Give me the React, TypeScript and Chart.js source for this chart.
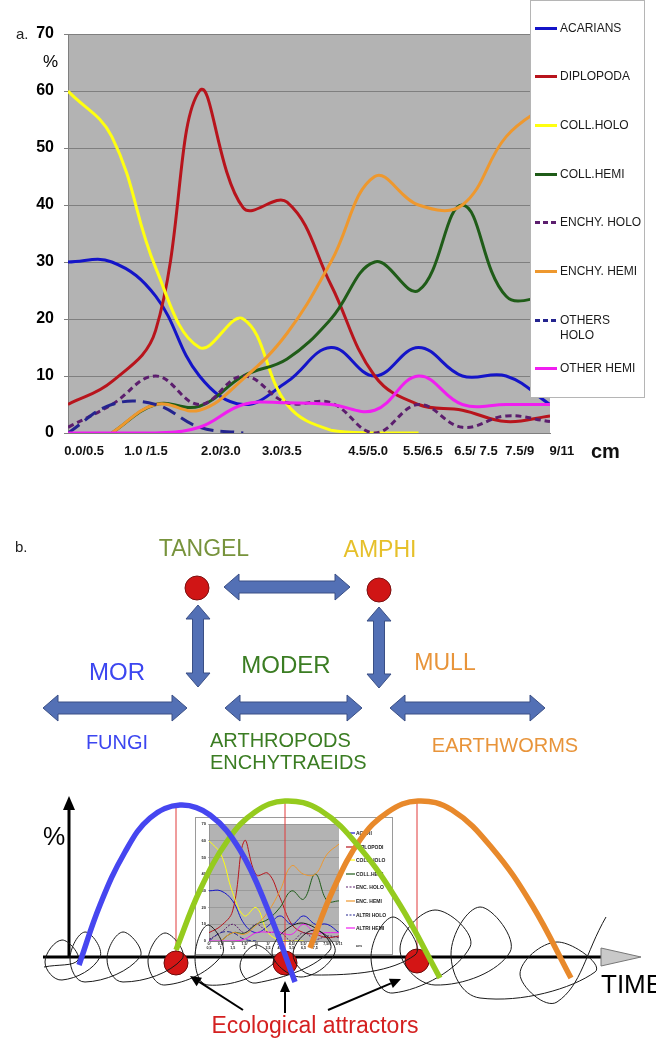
import React, { useEffect, useRef } from "react";
import { Chart, registerables } from "chart.js";
Chart.register(...registerables);

// ---------- Part a data ----------
const depthIndex = [0, 1, 2, 3, 4, 5, 6, 7, 8, 9, 10, 11];
const depthLabels = ["0.0/0.5", "1.0 /1.5", "2.0/3.0", "3.0/3.5", "4.5/5.0", "5.5/6.5", "6.5/ 7.5", "7.5/9", "9/11"];
const depthLabelPos = [0.37, 1.78, 3.49, 4.88, 6.85, 8.1, 9.31, 10.31, 11.27];
const insetTickLabels = [["0/", "0,5"], ["0,5/", "1"], ["1/", "1,5"], ["1,5/", "2"], ["2/", "3"], ["3/", "3,5"], ["3,5/", "4,5"], ["4,5/", "5,5"], ["5,5/", "6,5"], ["6,5/", "7,5"], ["7,5/9", ""], ["9/11", ""]];

const seriesNames = ["ACARIANS", "DIPLOPODA", "COLL.HOLO", "COLL.HEMI", "ENCHY. HOLO", "ENCHY. HEMI", "OTHERS\nHOLO", "OTHER HEMI"];
const insetNames = ["ACARI", "DIPLOPODI", "COLL.HOLO", "COLL.HEMI", "ENC. HOLO", "ENC. HEMI", "ALTRI HOLO", "ALTRI HEMI"];

const acarians = [30, 30, 24, 10, 5, 9, 15, 10, 15, 10, 10, 5];
const diplopoda = [5, 9, 18, 60, 39.5, 40.5, 26, 10, 5, 4, 2, 3];
const collHolo = [60, 52, 29, 15, 20, 5, 0.5, 0, 0, null, null, null];
const collHemi = [null, 0, 5, 4.7, 10, 13, 20, 30, 25, 40, 24, 24];
const enchyHolo = [1, 5, 10, 5, 10, 5.3, 5.3, 0, 5, 1, 3, 2];
const enchyHemi = [null, 0, 5, 4, 9.5, 17.5, 30, 45, 40, 40, 52, 58];
const othersHolo = [0, 5, 5, 1, 0, null, null, null, null, null, null, null];
const otherHemi = [0, 0, 0, 1, 5, 5.3, 5, 4, 10, 5, 5, 5];
const seriesValues = [acarians, diplopoda, collHolo, collHemi, enchyHolo, enchyHemi, othersHolo, otherHemi];

const seriesColors = ["#1414C8", "#B8141C", "#FFFF10", "#1F5C18", "#5C1E6E", "#EE982E", "#24248F", "#F01EF0"];
const seriesDash = [[], [], [], [], [6, 4], [], [14, 7], []];

// ---------- Part b schematic data ----------
const morTime = [79, 100, 125, 150, 180, 210, 240, 268, 295];
const morLevel = [-8, 52, 105, 139, 152, 142, 107, 47, -25];
const moderTime = [176, 200, 228, 255, 285, 320, 360, 400, 440];
const moderLevel = [7, 67, 117, 145, 156, 147, 109, 52, -21];
const mullTime = [310, 333, 360, 388, 418, 452, 492, 532, 571];
const mullLevel = [9, 67, 117, 145, 156, 147, 109, 52, -21];

const loopTime = [44, 78, 62, 45, 62, 100, 85, 70, 85, 140, 123, 107, 123, 182, 165, 148, 165, 222, 208, 195, 208, 273, 256, 240, 256, 330, 301, 272, 301, 335, 314, 293, 314, 415, 393, 371, 393, 470, 435, 400, 435, 510, 480, 451, 480, 595, 557, 520, 557, 606];
const loopLevel = [-10, -3, 17, -5, -23, 0, 25, -2, -25, 0, 25, -2, -25, -2, 24, -4, -28, 2, 32, 0, -28, -7, 12, -9, -26, 7, 34, 5, -20, 5, 27, 3, -18, 2, 40, 0, -36, 10, 47, 8, -28, 5, 50, 3, -41, -15, 15, -17, -45, 40];

const attractorTime = [176, 285, 417];
const attractorLevel = [-6, -6, -4];
const peakLevel = [154, 158, 157];
const pointerFrom = [[243, -53], [285, -56], [328, -53]];
const pointerTo = [[190, -19], [285, -24], [401, -22]];
const timeAxisRange = [43, 601];
const levelAxisTop = 160;

// ---------- diagram layout ----------
const arrowsH = [[224, 350, 587], [43, 187, 708], [225, 362, 708], [390, 545, 708]];
const arrowsV = [[198, 605, 687], [379, 607, 688]];
const topDots = [[197, 588], [379, 590]];

const FONT = '"Liberation Sans", Arial, sans-serif';

const plotBg = {
  id: "plotBg",
  beforeDraw(chart: any, _a: any, opts: any) {
    if (!opts || !opts.color) return;
    const { ctx, chartArea: a } = chart;
    ctx.save();
    ctx.fillStyle = opts.color;
    ctx.fillRect(a.left, a.top, a.right - a.left, a.bottom - a.top);
    ctx.restore();
  },
};

function makeDatasets(width: number) {
  return seriesValues.map((vals, i) => ({
    label: seriesNames[i].replace("\n", " "),
    data: vals,
    borderColor: seriesColors[i],
    backgroundColor: seriesColors[i],
    borderWidth: width,
    borderDash: seriesDash[i].map((d) => (d * width) / 3),
    pointRadius: 0,
    tension: 0.4,
    fill: false,
    spanGaps: false,
    order: 8 - i,
  }));
}

function mainConfig(): any {
  return {
    type: "line",
    data: { labels: depthIndex, datasets: makeDatasets(3) },
    options: {
      animation: false,
      responsive: false,
      events: [],
      layout: { padding: { left: 0, right: 106, top: 34, bottom: 0 } },
      plugins: { legend: { display: false }, tooltip: { enabled: false }, plotBg: { color: "#B3B3B3" } },
      scales: {
        x: {
          type: "linear",
          min: 0,
          max: 11,
          afterBuildTicks: (s: any) => {
            s.ticks = depthLabelPos.map((v) => ({ value: v }));
          },
          afterFit: (s: any) => {
            s.height = 37;
          },
          grid: { display: false, drawTicks: false },
          border: { display: true, color: "#7F7F7F" },
          ticks: {
            autoSkip: false,
            maxRotation: 0,
            padding: 11,
            color: "#111",
            font: { family: FONT, size: 13, weight: "bold" },
            callback: (_v: any, i: number) => depthLabels[i],
          },
        },
        y: {
          min: 0,
          max: 70,
          afterFit: (s: any) => {
            s.width = 68;
          },
          ticks: { stepSize: 10, padding: 10, color: "#000", font: { family: FONT, size: 16, weight: "bold" } },
          grid: { color: "#7F7F7F", tickLength: 4, drawTicks: true },
          border: { color: "#7F7F7F" },
        },
      },
    },
    plugins: [plotBg],
  };
}

function insetConfig(): any {
  return {
    type: "line",
    data: { labels: depthIndex, datasets: makeDatasets(1) },
    options: {
      animation: false,
      responsive: false,
      events: [],
      layout: { padding: { left: 0, right: 53, top: 6, bottom: 0 } },
      plugins: { legend: { display: false }, tooltip: { enabled: false }, plotBg: { color: "#B3B3B3" } },
      scales: {
        x: {
          type: "linear",
          min: 0,
          max: 11,
          afterBuildTicks: (s: any) => {
            s.ticks = depthIndex.map((v) => ({ value: v }));
          },
          afterFit: (s: any) => {
            s.height = 13;
          },
          grid: { display: false, drawTicks: false },
          border: { display: true, color: "#7F7F7F" },
          ticks: {
            autoSkip: false,
            maxRotation: 0,
            padding: 1,
            color: "#222",
            font: { family: FONT, size: 3.6, weight: "bold", lineHeight: 1.1 },
            callback: (_v: any, i: number) => insetTickLabels[i],
          },
        },
        y: {
          min: 0,
          max: 70,
          afterFit: (s: any) => {
            s.width = 13;
          },
          ticks: { stepSize: 10, padding: 2, color: "#222", font: { family: FONT, size: 4, weight: "bold" } },
          grid: { color: "#8A8A8A", lineWidth: 0.6, tickLength: 1, drawTicks: true },
          border: { color: "#7F7F7F", width: 0.6 },
        },
      },
    },
    plugins: [plotBg],
  };
}

const schemaAxes = {
  id: "schemaAxes",
  beforeDatasetsDraw(chart: any) {
    const { ctx, scales } = chart;
    const X = (v: number) => scales.x.getPixelForValue(v);
    const Y = (v: number) => scales.y.getPixelForValue(v);
    ctx.save();
    ctx.strokeStyle = "#000";
    ctx.fillStyle = "#000";
    ctx.lineWidth = 3;
    // time axis
    ctx.beginPath();
    ctx.moveTo(X(timeAxisRange[0]), Y(0));
    ctx.lineTo(X(timeAxisRange[1]), Y(0));
    ctx.stroke();
    // gray triangle arrow head
    ctx.beginPath();
    ctx.moveTo(X(timeAxisRange[1]), Y(9));
    ctx.lineTo(X(timeAxisRange[1] + 40), Y(0));
    ctx.lineTo(X(timeAxisRange[1]), Y(-9));
    ctx.closePath();
    ctx.fillStyle = "#C9C9C9";
    ctx.fill();
    ctx.lineWidth = 1;
    ctx.strokeStyle = "#777";
    ctx.stroke();
    // level axis
    const x0 = X(69);
    ctx.strokeStyle = "#000";
    ctx.fillStyle = "#000";
    ctx.lineWidth = 3;
    ctx.beginPath();
    ctx.moveTo(x0, Y(0));
    ctx.lineTo(x0, Y(levelAxisTop - 10));
    ctx.stroke();
    ctx.beginPath();
    ctx.moveTo(x0, Y(levelAxisTop + 1));
    ctx.lineTo(x0 - 6, Y(levelAxisTop - 13));
    ctx.lineTo(x0 + 6, Y(levelAxisTop - 13));
    ctx.closePath();
    ctx.fill();
    ctx.restore();
  },
  afterDatasetsDraw(chart: any) {
    const { ctx, scales } = chart;
    const X = (v: number) => scales.x.getPixelForValue(v);
    const Y = (v: number) => scales.y.getPixelForValue(v);
    ctx.save();
    ctx.strokeStyle = "#000";
    ctx.fillStyle = "#000";
    ctx.lineWidth = 2;
    pointerFrom.forEach((f, i) => {
      const x1 = X(f[0]), y1 = Y(f[1]);
      const x2 = X(pointerTo[i][0]), y2 = Y(pointerTo[i][1]);
      const ang = Math.atan2(y2 - y1, x2 - x1);
      const hl = 11, hw = 5;
      const bx = x2 - hl * Math.cos(ang), by = y2 - hl * Math.sin(ang);
      ctx.beginPath();
      ctx.moveTo(x1, y1);
      ctx.lineTo(bx, by);
      ctx.stroke();
      ctx.beginPath();
      ctx.moveTo(x2, y2);
      ctx.lineTo(bx + hw * Math.sin(ang), by - hw * Math.cos(ang));
      ctx.lineTo(bx - hw * Math.sin(ang), by + hw * Math.cos(ang));
      ctx.closePath();
      ctx.fill();
    });
    ctx.restore();
  },
};

function schemaConfig(): any {
  const pts = (t: number[], l: number[]) => t.map((v, i) => ({ x: v, y: l[i] }));
  const curve = (t: number[], l: number[], color: string) => ({
    data: pts(t, l),
    borderColor: color,
    borderWidth: 5.5,
    tension: 0.4,
    pointRadius: 0,
    order: 0,
  });
  return {
    type: "line",
    data: {
      datasets: [
        curve(morTime, morLevel, "#4646F0"),
        curve(moderTime, moderLevel, "#95CB1E"),
        curve(mullTime, mullLevel, "#E8892B"),
        { data: pts(loopTime, loopLevel), borderColor: "#1A1A1A", borderWidth: 1, tension: 0.42, pointRadius: 0, order: 1 },
        {
          data: pts(attractorTime, attractorLevel),
          showLine: false,
          pointRadius: 12,
          pointBackgroundColor: "#D41515",
          pointBorderColor: "#6A0A0A",
          pointBorderWidth: 1,
          order: 2,
        },
        ...attractorTime.map((t, i) => ({
          data: [{ x: t, y: 0 }, { x: t, y: peakLevel[i] }],
          borderColor: "#E03A3A",
          borderWidth: 1,
          pointRadius: 0,
          order: 3,
        })),
      ],
    },
    options: {
      animation: false,
      responsive: false,
      events: [],
      layout: { padding: 0, autoPadding: false },
      plugins: { legend: { display: false }, tooltip: { enabled: false } },
      scales: {
        x: { type: "linear", display: false, min: 0, max: 656 },
        y: { type: "linear", display: false, min: -81, max: 177 },
      },
    },
    plugins: [schemaAxes],
  };
}

function hArrow(x1: number, x2: number, y: number) {
  const hl = 15, hh = 13, sh = 6;
  return `${x1},${y} ${x1 + hl},${y - hh} ${x1 + hl},${y - sh} ${x2 - hl},${y - sh} ${x2 - hl},${y - hh} ${x2},${y} ${x2 - hl},${y + hh} ${x2 - hl},${y + sh} ${x1 + hl},${y + sh} ${x1 + hl},${y + hh}`;
}
function vArrow(x: number, y1: number, y2: number) {
  const hl = 14, hh = 12, sh = 5.5;
  return `${x},${y1} ${x + hh},${y1 + hl} ${x + sh},${y1 + hl} ${x + sh},${y2 - hl} ${x + hh},${y2 - hl} ${x},${y2} ${x - hh},${y2 - hl} ${x - sh},${y2 - hl} ${x - sh},${y1 + hl} ${x - hh},${y1 + hl}`;
}

function Txt(p: { x: number; y: number; size: number; color?: string; bold?: boolean; align?: string; children: any }) {
  const tx = p.align === "left" ? "0" : "-50%";
  return (
    <div
      style={{
        position: "absolute",
        left: p.x,
        top: p.y,
        transform: `translate(${tx},-50%)`,
        fontSize: p.size,
        lineHeight: 1,
        color: p.color || "#000",
        fontWeight: p.bold ? "bold" : "normal",
        whiteSpace: "nowrap",
        fontFamily: FONT,
      }}
    >
      {p.children}
    </div>
  );
}

function LegendSample(p: { color: string; dash: number[]; w: number; h: number; lw: number }) {
  return (
    <svg width={p.w} height={p.h} style={{ display: "block" }}>
      <line x1={0} y1={p.h / 2} x2={p.w} y2={p.h / 2} stroke={p.color} strokeWidth={p.lw} strokeDasharray={p.dash.length ? p.dash.join(",") : undefined} />
    </svg>
  );
}

export default function App() {
  const mainRef = useRef<HTMLCanvasElement>(null);
  const insetRef = useRef<HTMLCanvasElement>(null);
  const schemaRef = useRef<HTMLCanvasElement>(null);

  useEffect(() => {
    const charts = [
      new Chart(mainRef.current as any, mainConfig()),
      new Chart(insetRef.current as any, insetConfig()),
      new Chart(schemaRef.current as any, schemaConfig()),
    ];
    return () => charts.forEach((c) => c.destroy());
  }, []);

  const bBlue = "#3C46F0";
  const bGreen = "#3B7D23";
  const bOrange = "#E8943A";

  return (
    <div style={{ position: "absolute", left: 0, top: 0, width: 656, height: 1038, background: "#fff", overflow: "hidden", fontFamily: FONT }}>
      {/* ---------- part a ---------- */}
      <canvas ref={mainRef} width={656} height={470} style={{ position: "absolute", left: 0, top: 0, width: 656, height: 470 }} />
      <Txt x={16} y={33} size={15} align="left" color="#222">a.</Txt>
      <Txt x={43} y={61} size={17} align="left">%</Txt>
      <Txt x={591} y={451} size={20} bold align="left" color="#111">cm</Txt>
      <div
        style={{
          position: "absolute",
          left: 530,
          top: 0,
          width: 115,
          height: 398,
          background: "#fff",
          border: "1px solid #B5B5B5",
          boxSizing: "border-box",
        }}
      >
        {seriesNames.map((n, i) => (
          <div key={n} style={{ position: "absolute", left: 4, top: 27 + i * 48.7 - 7.5, display: "flex", alignItems: "flex-start" }}>
            <div style={{ marginTop: 6 }}>
              <LegendSample color={seriesColors[i]} dash={seriesDash[i].length ? [5, 3] : []} w={22} h={3} lw={3} />
            </div>
            <div style={{ marginLeft: 3, fontSize: 12, lineHeight: "15px", color: "#1A1A1A", whiteSpace: "pre-line" }}>{n}</div>
          </div>
        ))}
      </div>

      {/* ---------- part b: diagram ---------- */}
      <svg width={656} height={1038} style={{ position: "absolute", left: 0, top: 0 }}>
        {arrowsH.map((a, i) => (
          <polygon key={"h" + i} points={hArrow(a[0], a[1], a[2])} fill="#5370B5" stroke="#3A4F85" strokeWidth={1} />
        ))}
        {arrowsV.map((a, i) => (
          <polygon key={"v" + i} points={vArrow(a[0], a[1], a[2])} fill="#5370B5" stroke="#3A4F85" strokeWidth={1} />
        ))}
        {topDots.map((d, i) => (
          <circle key={"d" + i} cx={d[0]} cy={d[1]} r={12} fill="#D01515" stroke="#7A1010" strokeWidth={1} />
        ))}
      </svg>
      <Txt x={15} y={546} size={15} align="left" color="#222">b.</Txt>
      <Txt x={204} y={548} size={23} color="#77933C">TANGEL</Txt>
      <Txt x={380} y={549} size={23} color="#E6C02A">AMPHI</Txt>
      <Txt x={117} y={672} size={24} color={bBlue}>MOR</Txt>
      <Txt x={286} y={665} size={24} color={bGreen}>MODER</Txt>
      <Txt x={445} y={662} size={23} color={bOrange}>MULL</Txt>
      <Txt x={117} y={742} size={20} color={bBlue}>FUNGI</Txt>
      <Txt x={210} y={740} size={20} align="left" color={bGreen}>ARTHROPODS</Txt>
      <Txt x={210} y={762} size={20} align="left" color={bGreen}>ENCHYTRAEIDS</Txt>
      <Txt x={505} y={745} size={20} color={bOrange}>EARTHWORMS</Txt>

      {/* ---------- part b: inset chart ---------- */}
      <div
        style={{
          position: "absolute",
          left: 195,
          top: 817,
          width: 198,
          height: 138,
          background: "#fff",
          border: "1px solid #9A9A9A",
          boxSizing: "border-box",
          overflow: "hidden",
        }}
      >
        <canvas ref={insetRef} width={196} height={136} style={{ position: "absolute", left: 0, top: 0, width: 196, height: 136 }} />
        {insetNames.map((n, i) => (
          <div key={n} style={{ position: "absolute", left: 150, top: 15 + i * 13.6 - 3, display: "flex", alignItems: "center" }}>
            <LegendSample color={seriesColors[i]} dash={seriesDash[i].length ? [2, 1.5] : []} w={9} h={6} lw={1.2} />
            <div style={{ marginLeft: 1, fontSize: 5, lineHeight: "6px", fontWeight: "bold", color: "#222", whiteSpace: "nowrap" }}>{n}</div>
          </div>
        ))}
        <div style={{ position: "absolute", left: 160, top: 125, fontSize: 4, fontWeight: "bold", color: "#222" }}>cm</div>
      </div>

      {/* ---------- part b: schematic chart ---------- */}
      <canvas ref={schemaRef} width={656} height={258} style={{ position: "absolute", left: 0, top: 780, width: 656, height: 258 }} />
      <Txt x={43} y={836} size={25} align="left">%</Txt>
      <Txt x={601} y={984} size={26} align="left">TIME</Txt>
      <Txt x={315} y={1025} size={23} color="#D42020">Ecological attractors</Txt>
    </div>
  );
}
